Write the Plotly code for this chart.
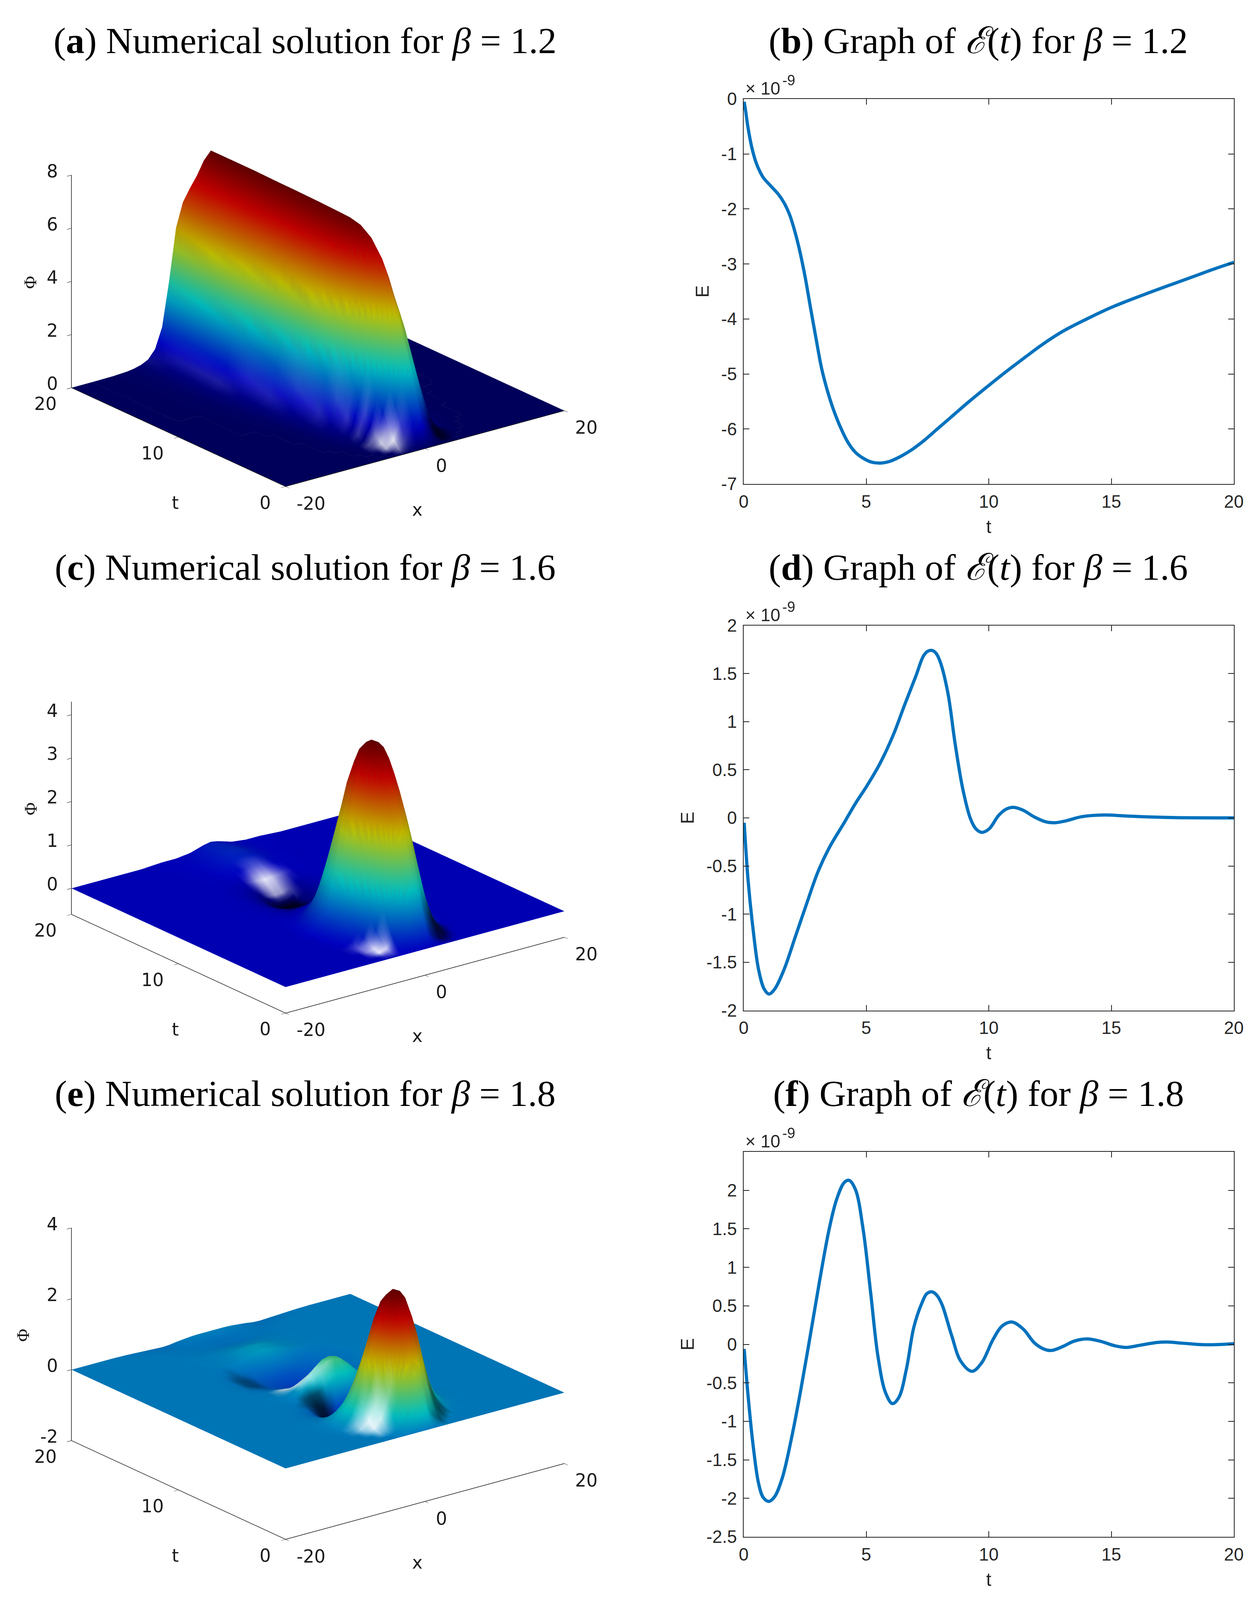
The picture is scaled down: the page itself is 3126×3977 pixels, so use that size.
import plotly.graph_objects as go

W, H = 3126, 3977

# ---------- E(t) curves (units of 1e-9) ----------
t_b = [0.02,0.08,0.18,0.33,0.5,0.65,0.8,1.1,1.41,1.65,1.87,2.05,2.26,2.5,2.72,2.95,3.18,3.4,3.64,3.95,4.25,4.55,4.87,5.2,5.56,5.95,6.4,6.85,7.33,7.9,8.55,9.2,9.94,10.7,11.47,12.2,13,14,15,15.9,16.85,17.6,18.4,19.2,20]
E_b = [-0.05,-0.22,-0.53,-0.88,-1.15,-1.31,-1.43,-1.58,-1.73,-1.89,-2.1,-2.35,-2.71,-3.22,-3.78,-4.35,-4.9,-5.28,-5.62,-5.97,-6.24,-6.42,-6.53,-6.6,-6.62,-6.59,-6.5,-6.38,-6.22,-6.0,-5.75,-5.5,-5.23,-4.96,-4.7,-4.46,-4.23,-4.0,-3.79,-3.63,-3.47,-3.35,-3.22,-3.09,-2.97]
t_d = [0.02,0.18,0.38,0.61,0.84,1.03,1.26,1.64,2.1,2.57,3.03,3.49,4.1,4.56,5.02,5.56,6.1,6.56,7.02,7.33,7.5,7.68,7.85,8.02,8.33,8.63,8.94,9.25,9.48,9.71,10.01,10.4,10.7,11.01,11.4,11.86,12.32,12.7,13.16,13.78,14.7,15.6,16.5,17.6,20]
E_d = [-0.05,-0.65,-1.15,-1.58,-1.78,-1.83,-1.78,-1.58,-1.24,-0.89,-0.56,-0.31,-0.05,0.15,0.33,0.565,0.86,1.17,1.47,1.68,1.73,1.74,1.71,1.62,1.3,0.765,0.30,-0.006,-0.115,-0.15,-0.115,0.025,0.09,0.11,0.08,0.01,-0.04,-0.05,-0.03,0.012,0.03,0.02,0.01,0.003,0.0]
t_f = [0.02,0.18,0.38,0.61,0.8,1.03,1.26,1.57,1.95,2.33,2.72,3.1,3.49,3.79,4.1,4.3,4.56,4.87,5.18,5.48,5.79,6.07,6.33,6.64,6.94,7.25,7.48,7.71,7.9,8.1,8.48,8.86,9.32,9.71,10.17,10.55,10.94,11.4,11.86,12.24,12.55,13.01,13.47,14.0,14.55,15.16,15.6,16.2,16.85,17.3,17.9,18.7,19.3,20]
E_f = [-0.06,-0.67,-1.3,-1.81,-1.99,-2.04,-1.98,-1.74,-1.22,-0.59,0.12,0.83,1.5,1.88,2.1,2.13,2.01,1.5,0.67,-0.16,-0.63,-0.77,-0.69,-0.32,0.22,0.52,0.66,0.68,0.63,0.51,0.12,-0.22,-0.35,-0.24,0.06,0.24,0.29,0.2,0.02,-0.06,-0.08,-0.03,0.04,0.07,0.04,-0.02,-0.04,-0.01,0.024,0.03,0.015,-0.004,-0.004,0.008]

ticks_t = [0, 5, 10, 15, 20]
ticks_b = [0, -1, -2, -3, -4, -5, -6, -7]
ticklabels_b = ["0", "-1", "-2", "-3", "-4", "-5", "-6", "-7"]
ticks_d = [-2, -1.5, -1, -0.5, 0, 0.5, 1, 1.5, 2]
ticklabels_d = ["-2", "-1.5", "-1", "-0.5", "0", "0.5", "1", "1.5", "2"]
ticks_f = [-2.5, -2, -1.5, -1, -0.5, 0, 0.5, 1, 1.5, 2]
ticklabels_f = ["-2.5", "-2", "-1.5", "-1", "-0.5", "0", "0.5", "1", "1.5", "2"]

# ---------- Phi(x, t): rows are t, columns are |x| (surface read as even in x) ----------
x_half = [0, 1, 2, 3, 4, 5, 6, 7, 8, 9, 10, 11, 12, 14, 17, 20]

t_a = [0, 0.5, 1, 1.5, 2, 2.5, 3, 3.5, 4, 5, 6, 7, 8, 10, 12, 14, 16, 18, 20]
phi_a = [
 [0],
 [1.2, .9, .4, .1, .02],
 [2.1, 1.7, .95, .35, .1, .02],
 [3.0, 2.5, 1.55, .7, .22, .05, .01],
 [3.85, 3.25, 2.2, 1.15, .42, .11, .03, .01],
 [4.7, 3.95, 2.85, 1.65, .69, .2, .06, .02],
 [5.3, 4.5, 3.5, 2.3, 1.06, .35, .09, .03, .01],
 [5.9, 5.0, 4.1, 2.88, 1.49, .51, .15, .05, .02, .01],
 [6.4, 5.6, 4.6, 3.44, 1.95, .74, .22, .07, .02, .01],
 [7.0, 6.4, 5.4, 4.4, 2.85, 1.28, .4, .11, .04, .01],
 [7.3, 6.9, 6.05, 5.0, 3.55, 1.87, .65, .19, .06, .02, .01],
 [7.4, 7.1, 6.4, 5.5, 4.2, 2.45, .93, .29, .09, .03, .01],
 [7.42, 7.15, 6.55, 5.75, 4.6, 2.85, 1.19, .4, .14, .05, .02, .01],
 [7.45, 7.18, 6.65, 6.0, 5.05, 3.4, 1.6, .62, .24, .1, .05, .02, .01],
 [7.47, 7.2, 6.68, 6.1, 5.3, 3.8, 1.95, .82, .34, .15, .07, .04, .02],
 [7.48, 7.2, 6.7, 6.18, 5.5, 4.2, 2.3, 1.02, .44, .2, .1, .05, .03, .01],
 [7.5, 7.2, 6.7, 6.2, 5.65, 4.5, 2.6, 1.18, .52, .24, .12, .06, .03, .01],
 [7.5, 7.2, 6.7, 6.25, 5.75, 4.75, 2.8, 1.28, .56, .26, .13, .07, .04, .01],
 [7.5, 7.2, 6.7, 6.3, 5.85, 4.95, 3.0, 1.35, .6, .28, .15, .08, .04, .01],
]

t_c = [0, .5, 1, 1.5, 2, 2.5, 3, 3.5, 4, 4.5, 5, 5.5, 6, 6.5, 7, 7.5, 8, 8.5, 9, 10, 11, 12, 13, 14, 15, 16, 17, 18, 19, 20]
phi_c = [
 [0],
 [.35, .3, .17, .06, .02],
 [1.0, .88, .56, .25, .08, .02],
 [1.8, 1.6, 1.08, .55, .2, .06, .01],
 [2.5, 2.28, 1.65, .92, .38, .12, .03, .01],
 [3.0, 2.8, 2.15, 1.3, .6, .2, .05, .01],
 [3.45, 3.25, 2.6, 1.7, .85, .32, .09, .02],
 [3.8, 3.6, 3.0, 2.1, 1.15, .48, .15, .04, .01],
 [4.05, 3.9, 3.32, 2.45, 1.45, .65, .22, .06, .01],
 [4.22, 4.1, 3.58, 2.75, 1.72, .83, .3, .08, .02],
 [4.26, 4.16, 3.72, 2.95, 1.95, 1.0, .38, .11, .02],
 [4.15, 4.03, 3.6, 2.88, 2.0, 1.1, .45, .14, .03],
 [3.82, 3.68, 3.25, 2.55, 1.8, 1.0, .42, .14, .04, .01],
 [3.2, 3.08, 2.68, 2.1, 1.45, .8, .34, .12, .03],
 [2.4, 2.32, 2.05, 1.58, 1.05, .56, .24, .09, .03],
 [1.65, 1.6, 1.4, 1.05, .65, .33, .14, .05, .02],
 [1.0, .96, .83, .58, .33, .15, .06, .03, .01],
 [.6, .57, .47, .3, .14, .05, .02, .01],
 [.3, .28, .2, .1, .02, -.01, -.01],
 [-.02, -.03, -.07, -.1, -.1, -.07, -.04, -.01],
 [-.22, -.22, -.22, -.2, -.16, -.1, -.05, -.02, -.01],
 [-.42, -.41, -.37, -.3, -.2, -.12, -.05, -.02, -.01],
 [-.5, -.47, -.4, -.28, -.17, -.09, -.04, -.01],
 [-.35, -.33, -.27, -.18, -.1, -.05, -.02],
 [-.1, -.09, -.08, -.05, -.03, -.01],
 [.1, .09, .07, .05, .03, .01, .01],
 [.22, .2, .16, .1, .06, .03, .02, .01],
 [.25, .23, .17, .11, .07, .04, .02, .01],
 [.22, .2, .15, .1, .06, .04, .03, .02, .01],
 [.2, .17, .12, .07, .05, .03, .03, .03, .02, .01],
]

t_e = [0, .5, 1, 1.5, 2, 2.5, 3, 3.5, 4, 4.5, 5, 5.5, 6, 6.5, 7, 7.5, 8, 8.5, 9, 9.5, 10, 10.5, 11, 12, 13, 14, 15, 16, 17, 18, 19, 20]
phi_e = [
 [0],
 [.6, .5, .25, .08, .02],
 [1.5, 1.3, .85, .4, .13, .04, .01],
 [2.6, 2.3, 1.6, .85, .35, .12, .03, .01],
 [3.1, 2.9, 2.3, 1.4, .68, .26, .08, .02, .01],
 [3.5, 3.35, 2.75, 1.95, 1.1, .48, .16, .05, .01],
 [3.58, 3.47, 3.0, 2.35, 1.55, .8, .33, .11, .03, .01],
 [3.35, 3.22, 2.78, 2.15, 1.45, .85, .42, .16, .05, .01],
 [2.6, 2.48, 2.1, 1.6, 1.1, .68, .36, .16, .05, .02],
 [1.5, 1.45, 1.25, .95, .62, .38, .22, .1, .04, .02, .01],
 [.6, .55, .42, .25, .12, .05, .03, .02, .01],
 [-.3, -.28, -.25, -.2, -.18, -.14, -.08, -.04, -.01],
 [-1.0, -.95, -.8, -.6, -.42, -.26, -.14, -.06, -.02, -.01],
 [-1.33, -1.25, -1.02, -.75, -.5, -.3, -.15, -.07, -.02, -.01],
 [-1.15, -1.08, -.88, -.63, -.4, -.22, -.1, -.04, -.01],
 [-.5, -.47, -.38, -.25, -.14, -.07, -.03, -.01],
 [.3, .28, .2, .12, .07, .03, .01],
 [.85, .8, .62, .4, .22, .1, .04, .01],
 [.85, .8, .64, .43, .25, .13, .05, .02],
 [.5, .48, .4, .28, .17, .09, .04, .02, .01],
 [.05, .05, .04, .03, .02, .01],
 [-.2, -.19, -.15, -.11, -.07, -.04, -.02, -.01],
 [-.3, -.3, -.27, -.23, -.18, -.13, -.08, -.04, -.02],
 [-.4, -.39, -.35, -.3, -.24, -.17, -.11, -.06, -.03, -.01],
 [-.28, -.27, -.25, -.22, -.18, -.14, -.09, -.05, -.03, -.01],
 [-.02, -.03, -.05, -.07, -.08, -.07, -.05, -.03, -.01],
 [.2, .18, .14, .1, .06, .03, .01],
 [.2, .18, .15, .1, .06, .03, .02, .01],
 [.05, .05, .05, .04, .03, .02, .01, .01],
 [-.05, -.05, -.04, -.03, -.02, -.02, -.01, -.01],
 [-.05, -.05, -.04, -.03, -.03, -.03, -.03, -.02, -.01],
 [.03, .03, .03, .02, 0, -.02, -.05, -.06, -.05, -.04, -.03, -.02, -.01],
]

# Shading seen in the picture: (t, x, amount); amount > 0 is glare, amount < 0 is shadow
shade_a = [(.5, -3, .5), (.5, -2, .2), (1, -3, .9), (1, -4, .7), (1, -2, .2), (1.5, -3, .5), (1.5, -4, .8), (1.5, -5, .2),
           (2, -4, .5), (2, -5, .3), (3, -4, .2), (3, -5, .2), (4, -5, .18), (5, -5, .14), (6, -6, .14), (7, -6, .13),
           (8, -6, .12), (10, -7, .12), (12, -7, .11), (14, -8, .11), (16, -8, .1), (18, -8, .08), (20, -9, .06),
           (.5, 1, -.3), (.5, 2, -.6), (.5, 3, -.7), (.5, 4, -.4), (1, 2, -.5), (1, 3, -.7), (1, 4, -.6), (1, 5, -.2),
           (1.5, 3, -.5), (1.5, 4, -.6), (1.5, 5, -.3)]
shade_c = [(.5, -4, .3), (.5, -5, .2), (1, -4, .8), (1, -5, .9), (1, -6, .3), (1.5, -4, .4), (1.5, -5, .85), (1.5, -6, .5),
           (2, -5, .5), (2, -6, .45), (2, -7, .1), (2.5, -6, .25), (2.5, -7, .1),
           (14, -1, .3), (14, 0, .6), (14, 1, .6), (14, 2, .3), (15, -2, .3), (15, -1, .7), (15, 0, .9), (15, 1, .8),
           (15, 2, .5), (15, 3, .2), (16, -1, .2), (16, 0, .3), (16, 1, .3), (16, 2, .15),
           (.5, 2, -.4), (.5, 3, -.6), (.5, 4, -.4), (1, 2, -.4), (1, 3, -.7), (1, 4, -.7), (1, 5, -.3),
           (1.5, 3, -.6), (1.5, 4, -.7), (1.5, 5, -.5), (2, 4, -.5), (2, 5, -.5), (2, 6, -.2),
           (11, -3, -.4), (11, -2, -.6), (11, -1, -.6), (11, 0, -.6), (12, -3, -.3), (12, -2, -.4), (12, -1, -.6),
           (12, 0, -.7), (12, 1, -.6), (13, -2, -.3), (13, -1, -.5), (13, 0, -.7), (13, 1, -.6)]
shade_e = [(1, -4, .4), (1, -5, .5), (1.5, -3, .3), (1.5, -4, .8), (1.5, -5, .9), (1.5, -6, .4), (2, -4, .6), (2, -5, .9),
           (2, -6, .7), (2, -7, .2), (2.5, -5, .4), (2.5, -6, .5), (2.5, -7, .2),
           (8.5, -1, .3), (8.5, -2, .45), (8.5, -3, .4), (9, -2, .5), (9, -3, .7), (9, -4, .5), (9.5, -3, .7), (9.5, -4, .8),
           (9.5, -5, .5), (9.5, -6, .2), (10, -3, .5), (10, -4, .9), (10, -5, .7), (10, -6, .3), (10.5, -3, .3),
           (10.5, -4, .6), (10.5, -5, .4),
           (.5, 2, -.3), (.5, 3, -.4), (1, 3, -.5), (1, 4, -.5), (1.5, 3, -.4), (1.5, 4, -.5), (1.5, 5, -.4), (2, 4, -.4), (2, 5, -.4),
           (6.5, -3, -.5), (6.5, -4, -.5), (6.5, -5, -.3), (7, -2, -.5), (7, -3, -.7), (7, -4, -.7), (7, -5, -.4),
           (7.5, -2, -.4), (7.5, -3, -.7), (7.5, -4, -.7), (7.5, -5, -.5), (7.5, -6, -.2), (8, -3, -.4), (8, -4, -.5), (8, -5, -.4),
           (12, -5, -.25), (12, -6, -.35), (12, -7, -.3), (13, -5, -.25), (13, -6, -.35), (13, -7, -.3), (14, -6, -.15)]

phi_ticks_a = [0, 2, 4, 6, 8]
phi_ticks_c = [0, 1, 2, 3, 4]
phi_ticks_e = [-2, 0, 2, 4]
ticks_space_x = [-20, 0, 20]
ticks_space_t = [0, 10, 20]

titles = ["(<b>a</b>) Numerical solution for <i>β</i> = 1.2",
          "(<b>b</b>) Graph of <i>ℰ</i>(<i>t</i>) for <i>β</i> = 1.2",
          "(<b>c</b>) Numerical solution for <i>β</i> = 1.6",
          "(<b>d</b>) Graph of <i>ℰ</i>(<i>t</i>) for <i>β</i> = 1.6",
          "(<b>e</b>) Numerical solution for <i>β</i> = 1.8",
          "(<b>f</b>) Graph of <i>ℰ</i>(<i>t</i>) for <i>β</i> = 1.8"]

JET = [(0, (0, 0, 127)), (.11, (0, 0, 255)), (.36, (0, 255, 255)), (.61, (255, 255, 0)), (.86, (255, 0, 0)), (1, (127, 0, 0))]
INK = "#1a1a1a"
BLUE = "#0072BD"
ROW = 1308.5
OFFX, OFFY = -10, -8
LIGHT = dict(x=-30000, y=95000, z=-8000)
LIGHTING = dict(ambient=.8, diffuse=.28, specular=0, roughness=.5, fresnel=0)
BASE = .75
ASPECT = 1.456
TESSELLATE = 3  # straight-line cell split, as a Surface trace does inside, so colours are sampled finely


def fx(px):
    return (px + OFFX) / W


def fy(py):
    return 1 - (py + OFFY) / H


x_full = [-v for v in x_half[::-1]] + x_half[1:]


def full_grid(rows):
    out = []
    for r in rows:
        r = list(r) + [0] * (len(x_half) - len(r))
        out.append(r[::-1] + r[1:])
    return out


def split(values):
    out = []
    for p, q in zip(values, values[1:]):
        for s in range(TESSELLATE):
            out.append(p + (q - p) * s / TESSELLATE)
    out.append(values[-1])
    return out


def split_grid(grid):
    by_row = [split(row) for row in grid]
    by_col = [split(list(col)) for col in zip(*by_row)]
    return [list(row) for row in zip(*by_col)]


def label(x, y, z, text, xanchor, xshift, yshift, size=44, family="DejaVu Sans", angle=0):
    return dict(x=x, y=y, z=z, text=text, showarrow=False, xanchor=xanchor, yanchor="middle",
                xshift=xshift, yshift=yshift, textangle=angle,
                font=dict(family=family, size=size, color=INK))


def jet_rgb(value, cmin, cmax):
    p = min(1, max(0, (value - cmin) / (cmax - cmin)))
    for (p0, c0), (p1, c1) in zip(JET, JET[1:]):
        if p <= p1:
            f = (p - p0) / (p1 - p0)
            return [c0[k] + (c1[k] - c0[k]) * f for k in range(3)]
    return list(JET[-1][1])


def vertex_colour(value, cmin, cmax, amount):
    rgb = [BASE * c for c in jet_rgb(value, cmin, cmax)]
    if amount > 0:
        rgb = [c + (255 - c) * amount for c in rgb]
    elif amount < 0:
        rgb = [c * (1 + amount) for c in rgb]
    return "rgb(%d,%d,%d)" % tuple(round(c) for c in rgb)


def mesh_trace(tt, rows, cmin, cmax, sc, shade):
    amounts = {(a, b): w for a, b, w in shade}
    shade_grid = [[amounts.get((tv, xv), 0) for xv in x_full] for tv in tt]
    z_fine = split_grid(full_grid(rows))
    s_fine = split_grid(shade_grid)
    x_fine, t_fine = split(x_full), split(tt)
    nx, nt = len(x_fine), len(t_fine)
    xs, ys, zs, cols, ii, jj, kk = [], [], [], [], [], [], []
    for a, tv in enumerate(t_fine):
        for b, xv in enumerate(x_fine):
            xs.append(xv)
            ys.append(tv)
            zs.append(z_fine[a][b])
            cols.append(vertex_colour(z_fine[a][b], cmin, cmax, s_fine[a][b]))
    for a in range(nt - 1):
        for b in range(nx - 1):
            p = a * nx + b
            ii += [p, p]
            jj += [p + 1, p + nx + 1]
            kk += [p + nx + 1, p + nx]
    return go.Mesh3d(x=xs, y=ys, z=zs, i=ii, j=jj, k=kk, vertexcolor=cols, scene=sc,
                     hoverinfo="skip", flatshading=False, lighting=LIGHTING, lightposition=LIGHT)


fig = go.Figure()

surfaces = [(t_a, phi_a, 0, 7.5, [0, 8], phi_ticks_a, "scene", shade_a),
            (t_c, phi_c, -.5, 4.26, [-.6, 4.3], phi_ticks_c, "scene2", shade_c),
            (t_e, phi_e, -1.33, 3.58, [-2, 4], phi_ticks_e, "scene3", shade_e)]

CAM_R = 2.0


def ax3(rng, vals):
    return dict(title=dict(text=""), range=rng, tickvals=vals, showticklabels=False,
                showbackground=False, showgrid=False, zeroline=False, showspikes=False,
                showline=True, linecolor=INK, linewidth=3, ticks="outside",
                ticklen=14, tickwidth=2, tickcolor=INK)


for i, (tt, rows, cmin, cmax, zr, zt, sc, shade) in enumerate(surfaces):
    fig.add_trace(mesh_trace(tt, rows, cmin, cmax, sc, shade))
    cy = 728 + i * ROW
    zlo = zr[0]
    ann = [label(-20, 20, v, str(v), "right", -32, 10) for v in zt]
    ann += [label(-20, v, zlo, str(v), "right", -35, -40) for v in ticks_space_t]
    ann += [label(v, 0, zlo, str(v), "left", 25, -42) for v in ticks_space_x]
    ann += [label(-20, 10, zlo, "t", "center", -8, -163),
            label(0, 0, zlo, "x", "center", -19, -151),
            label(-20, 20, (zr[0] + zr[1]) / 2, "Φ", "center", -102 if i < 2 else -120, -3,
                  size=44, family="Liberation Serif", angle=-90)]
    fig.update_layout(**{sc: dict(
        domain=dict(x=[fx(42), fx(1542)], y=[fy(cy + 600), fy(cy - 600)]),
        xaxis=ax3([-20, 20], ticks_space_x),
        yaxis=ax3([0, 20], ticks_space_t),
        zaxis=ax3(zr, zt),
        aspectmode="manual", aspectratio=dict(x=ASPECT, y=ASPECT, z=.647 * ASPECT),
        camera=dict(projection=dict(type="orthographic"),
                    eye=dict(x=-.569 * CAM_R, y=-.741 * CAM_R, z=.354 * CAM_R),
                    up=dict(x=0, y=0, z=1), center=dict(x=0, y=0, z=0)),
        annotations=ann,
        bgcolor="rgba(0,0,0,0)")})

lines = [(t_b, E_b, [-7, 0], ticks_b, ticklabels_b),
         (t_d, E_d, [-2, 2], ticks_d, ticklabels_d),
         (t_f, E_f, [-2.5, 2.5], ticks_f, ticklabels_f)]
axes = {}
for i, (tt, ee, yr, yt, yl) in enumerate(lines):
    n = "" if i == 0 else str(i + 1)
    fig.add_trace(go.Scatter(x=tt, y=ee, mode="lines", xaxis="x" + n, yaxis="y" + n,
                             line=dict(color=BLUE, width=8, shape="spline", smoothing=1.0),
                             hoverinfo="skip", showlegend=False))
    top = 246 + i * ROW
    bot = 1203 + i * ROW
    common = dict(showline=True, mirror="ticks", linecolor="#262626", linewidth=2, ticks="inside",
                  ticklen=14, tickwidth=2, tickcolor="#262626", showgrid=False, zeroline=False,
                  tickfont=dict(family="Liberation Sans", size=44, color="#262626"))
    axes["xaxis" + n] = dict(domain=[fx(1850), fx(3068)], range=[0, 20], anchor="y" + n,
                             tickvals=ticks_t, ticktext=[str(v) for v in ticks_t], ticklabelstandoff=4,
                             title=dict(text="t", font=dict(family="Liberation Sans", size=46, color="#262626"), standoff=23),
                             **common)
    axes["yaxis" + n] = dict(domain=[fy(bot), fy(top)], range=yr, anchor="x" + n,
                             tickvals=yt, ticktext=yl, ticklabelstandoff=6,
                             title=dict(text="E", font=dict(family="Liberation Sans", size=46, color="#262626"), standoff=16),
                             **common)
fig.update_layout(**axes)

anns = []
for i, txt in enumerate(titles):
    r, c = i // 2, i % 2
    anns.append(dict(text=txt, x=fx(760 if c == 0 else 2433), y=fy(101 + r * ROW), xref="paper", yref="paper",
                     xanchor="center", yanchor="middle", showarrow=False,
                     font=dict(family="Liberation Serif", size=92, color="#000000")))
for i in range(3):
    anns.append(dict(text="× 10", x=fx(1852), y=fy(246 + i * ROW), xref="paper", yref="paper",
                     xanchor="left", yanchor="bottom", showarrow=False,
                     font=dict(family="Liberation Sans", size=44, color="#262626")))
    anns.append(dict(text="-9", x=fx(1944), y=fy(222 + i * ROW), xref="paper", yref="paper",
                     xanchor="left", yanchor="bottom", showarrow=False,
                     font=dict(family="Liberation Sans", size=36, color="#262626")))

fig.update_layout(width=W, height=H, margin=dict(l=0, r=0, t=0, b=0, autoexpand=False),
                  paper_bgcolor="white", plot_bgcolor="white", showlegend=False,
                  annotations=anns)
fig.write_html("out.html")
